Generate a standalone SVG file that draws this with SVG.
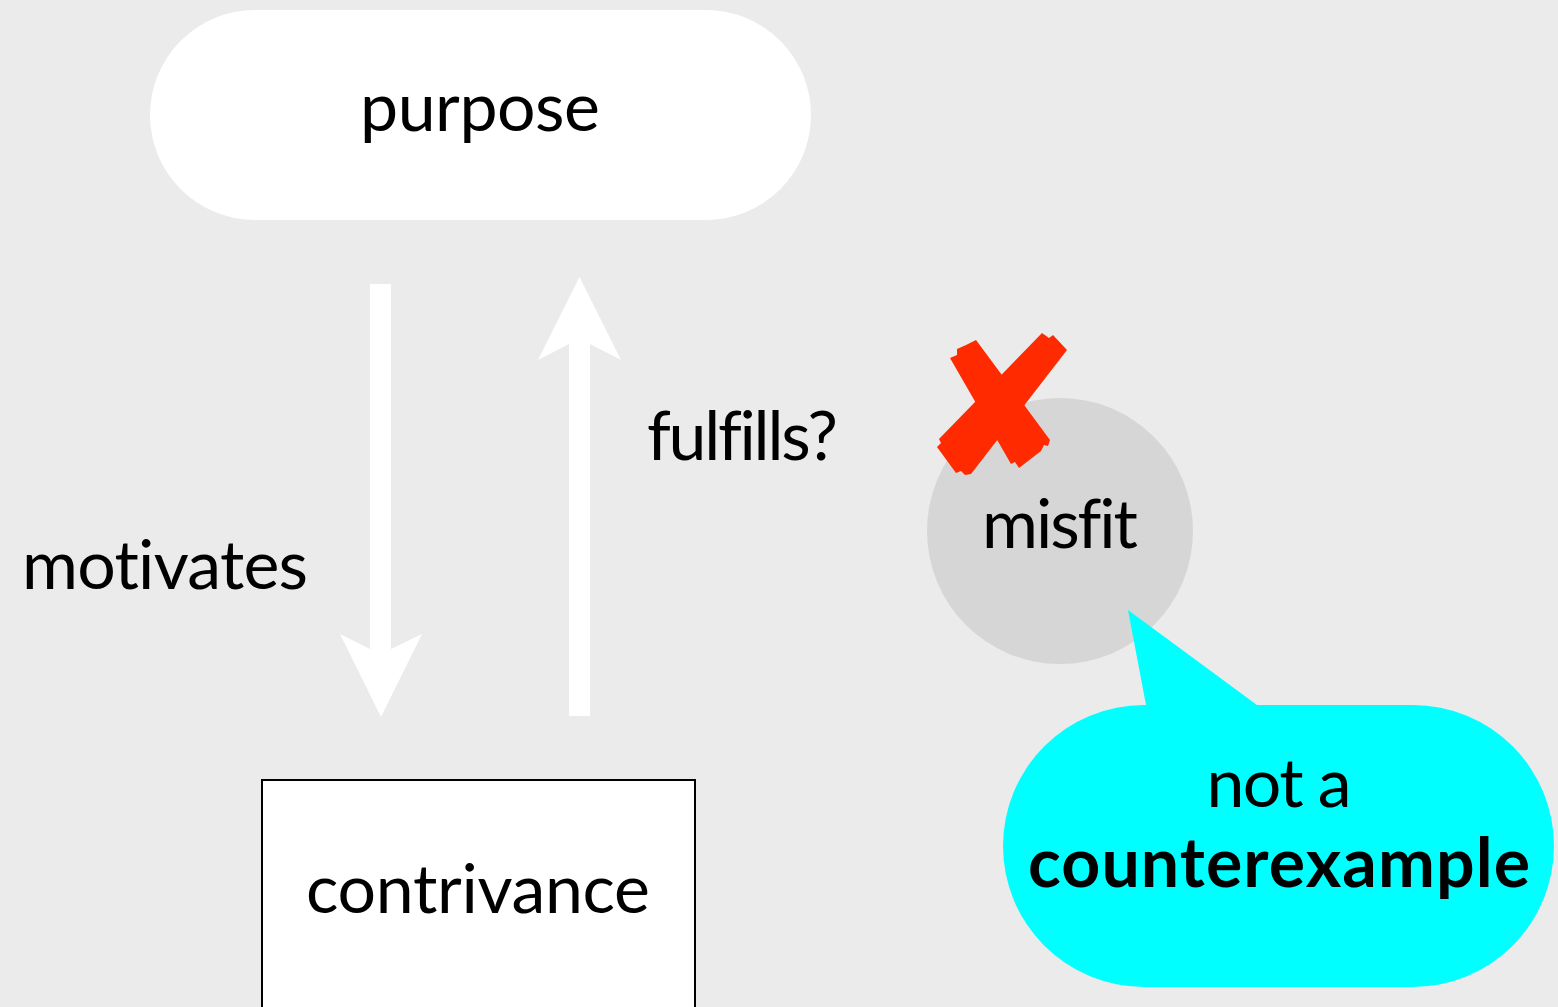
<svg xmlns="http://www.w3.org/2000/svg" width="1558" height="1007" viewBox="0 0 1558 1007">
  <style>
    .t { font-family: "Lato", "Open Sans", "Liberation Sans", sans-serif; font-size: 68px; fill: #000; font-variant-ligatures: none; font-feature-settings: "liga" 0, "clig" 0; }
    .b { font-weight: bold; }
    .arrow { fill: #ffffff; }
  </style>
  <rect x="0" y="0" width="1558" height="1007" fill="#ebebeb"/>

  <g id="purpose">
    <rect x="150" y="10" width="661" height="210" rx="105" ry="105" fill="#ffffff"/>
    <text class="t" x="480" y="131" text-anchor="middle" textLength="240">purpose</text>
  </g>

  <g id="contrivance">
    <rect x="262" y="780" width="433" height="240" fill="#ffffff" stroke="#000" stroke-width="2"/>
    <text class="t" x="478" y="913" text-anchor="middle" textLength="344">contrivance</text>
  </g>

  <g id="connectors">
    <polygon class="arrow" points="370,284 391,284 391,649 422,634 381,717 340,634 370,649"/>
    <polygon class="arrow" points="569,716 590,716 590,344 621,360 579.5,277 538,360 569,344"/>
    <text class="t" x="22" y="589" textLength="286">motivates</text>
    <text class="t" x="647" y="460" textLength="191">fulfills?</text>
  </g>

  <g id="misfit">
    <circle cx="1060" cy="531" r="133" fill="#d6d6d6"/>
    <text class="t" x="1060" y="548" text-anchor="middle" textLength="156">misfit</text>
  </g>

  <g id="cross" fill="#ff2a00">
    <polygon points="950,358 957,355 957,349 966,345 976,340 1050,440 1048,446 1044,445 1041,451 1019,468 1015,462 1011,464"/>
    <polygon points="1042,333 1049,338 1053,335 1067,350 971,474 965,475 961,471 956,473 937,447 941,443 939,439"/>
  </g>

  <g id="callout">
    <path d="M1146,705 L1128,610 L1257,705 L1413,705 A141,141 0 0 1 1413,987 L1144,987 A141,141 0 0 1 1144,705 Z" fill="#00ffff"/>
    <text class="t" x="1279" y="807" text-anchor="middle" textLength="145">not a</text>
    <text class="t b" x="1279" y="887" text-anchor="middle" textLength="502">counterexample</text>
  </g>
</svg>
